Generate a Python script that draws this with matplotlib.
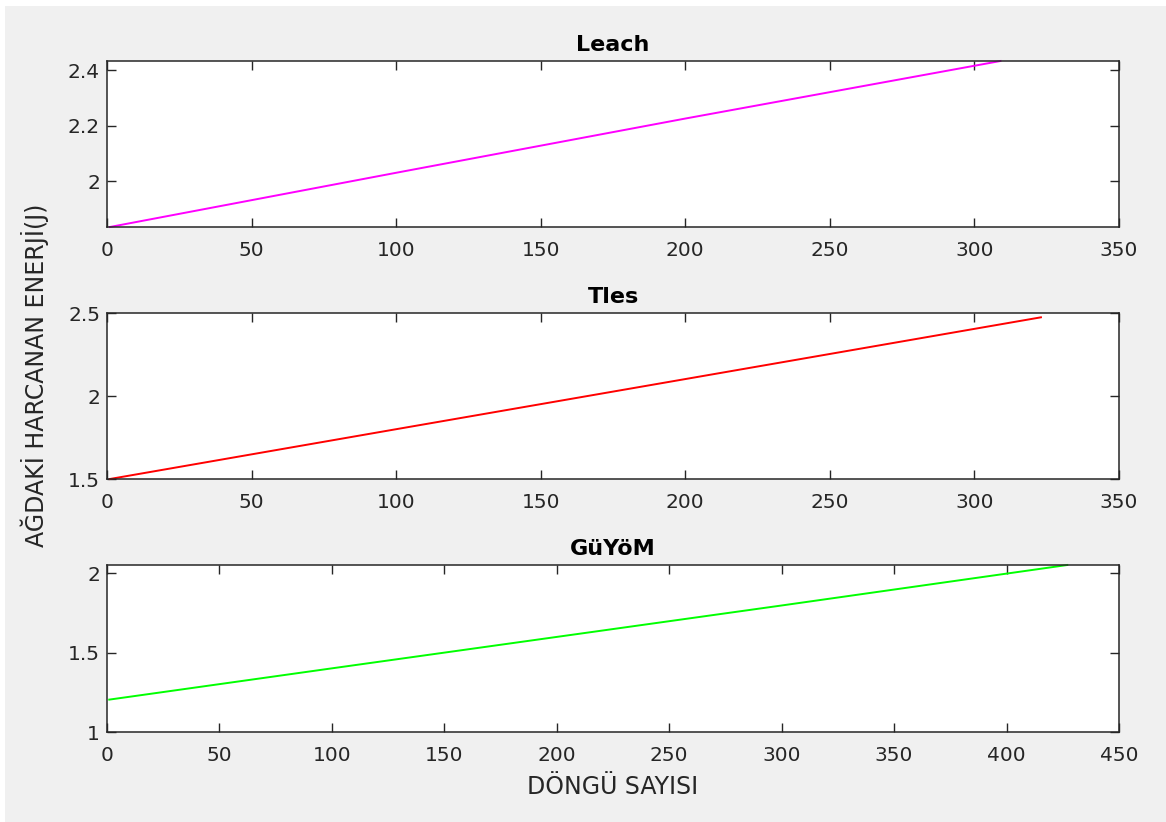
import numpy as np
import matplotlib.pyplot as plt
from matplotlib.patches import Rectangle

plt.rcParams['font.family'] = ['DejaVu Sans']

# values
leach_x = [1, 100, 200, 309]
leach_y = [1.834, 2.030, 2.226, 2.434]
tles_x = [1, 100, 200, 323]
tles_y = [1.500, 1.800, 2.102, 2.474]
guyom_x = [1, 100, 200, 300, 427]
guyom_y = [1.204, 1.401, 1.599, 1.797, 2.052]

titles = ['Leach', 'Tles', 'GüYöM']
colors = ['#ff00ff', '#ff0000', '#00ff00']
xlims = [(0, 350), (0, 350), (0, 450)]
ylims = [(1.834, 2.434), (1.5, 2.5), (1.0, 2.052)]
yticks = [[2, 2.2, 2.4], [1.5, 2, 2.5], [1, 1.5, 2]]
yticklabels = [['2', '2.2', '2.4'], ['1.5', '2', '2.5'], ['1', '1.5', '2']]
xs = [leach_x, tles_x, guyom_x]
ys = [leach_y, tles_y, guyom_y]

W, H = 1166, 822
fig = plt.figure(figsize=(W / 100, H / 100), dpi=100, facecolor='white')
fig.patches.append(Rectangle((5 / W, 0), 1, 1 - 6 / H, transform=fig.transFigure,
                             facecolor='#f0f0f0', edgecolor='none', zorder=-10))

# axes boxes in pixels: top, bottom
boxes = [(61, 227), (313, 479), (565, 732)]
left, right = 107, 1119
dark = '#262626'

for i in range(3):
    top, bot = boxes[i]
    ax = fig.add_axes([left / W, 1 - bot / H, (right - left) / W, (bot - top) / H])
    ax.plot(xs[i], ys[i], color=colors[i], lw=1.4, clip_on=False)
    ax.set_xlim(xlims[i])
    ax.set_ylim(ylims[i])
    ax.set_yticks(yticks[i])
    ax.set_yticklabels(yticklabels[i])
    ax.set_xticks(np.arange(xlims[i][0], xlims[i][1] + 1, 50))
    ax.tick_params(direction='in', length=6.5, width=1, colors=dark, labelsize=14.5,
                   top=True, right=True, labelcolor=dark)
    ax.tick_params(axis='x', pad=10)
    ax.tick_params(axis='y', pad=5)
    for s in ax.spines.values():
        s.set_color(dark)
        s.set_linewidth(1.1)
    ax.set_title(titles[i], fontsize=16, fontweight='bold', color='black', pad=7)
    if i == 2:
        ax.set_xlabel('DÖNGÜ SAYISI', fontsize=17, color=dark, labelpad=7)

fig.text(35 / W, 1 - 375 / H, 'AĞDAKİ HARCANAN ENERJİ(J)', rotation=90,
         ha='center', va='center', fontsize=17, color=dark)

fig.savefig('out.png', dpi=100, facecolor=fig.get_facecolor())
